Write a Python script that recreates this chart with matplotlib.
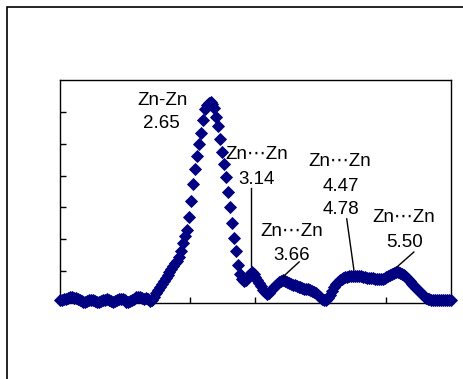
import numpy as np
import matplotlib
matplotlib.use("Agg")
import matplotlib.pyplot as plt
from matplotlib.patches import Rectangle

# FT magnitude, R from 0 to 6 (step 0.03)
r_min, r_max = 0.0, 6.0
ft_mag = [
    0.08, 0.10, 0.12, 0.14, 0.16, 0.18, 0.18, 0.17, 0.15, 0.13,
    0.10, 0.06, 0.04, 0.03, 0.05, 0.08, 0.09, 0.08, 0.06, 0.04,
    0.03, 0.05, 0.08, 0.10, 0.11, 0.09, 0.05, 0.03, 0.05, 0.09,
    0.13, 0.14, 0.12, 0.08, 0.04, 0.03, 0.06, 0.10, 0.14, 0.18,
    0.20, 0.19, 0.15, 0.13, 0.16, 0.12, 0.06, 0.10, 0.20, 0.30,
    0.40, 0.50, 0.60, 0.70, 0.79, 0.88, 0.97, 1.06, 1.15, 1.24,
    1.33, 1.45, 1.62, 1.88, 2.10, 2.30, 2.70, 3.20, 3.75, 4.20,
    4.60, 5.00, 5.35, 5.75, 6.08, 6.20, 6.28, 6.30, 6.24, 6.12,
    5.85, 5.55, 5.15, 4.75, 4.35, 3.95, 3.48, 3.00, 2.50, 2.05,
    1.62, 1.20, 0.92, 0.74, 0.68, 0.72, 0.84, 0.92, 0.96, 0.92,
    0.82, 0.72, 0.62, 0.52, 0.42, 0.34, 0.28, 0.32, 0.40, 0.47,
    0.54, 0.60, 0.65, 0.69, 0.71, 0.70, 0.67, 0.64, 0.61, 0.58,
    0.55, 0.52, 0.50, 0.49, 0.47, 0.45, 0.44, 0.43, 0.41, 0.38,
    0.34, 0.30, 0.25, 0.20, 0.14, 0.09, 0.08, 0.15, 0.26, 0.38,
    0.50, 0.59, 0.66, 0.72, 0.76, 0.79, 0.81, 0.83, 0.85, 0.86,
    0.86, 0.86, 0.85, 0.85, 0.84, 0.83, 0.82, 0.80, 0.79, 0.78,
    0.77, 0.76, 0.75, 0.75, 0.75, 0.76, 0.78, 0.81, 0.85, 0.89,
    0.92, 0.94, 0.96, 0.96, 0.95, 0.92, 0.87, 0.81, 0.75, 0.68,
    0.61, 0.54, 0.47, 0.40, 0.33, 0.27, 0.21, 0.16, 0.13, 0.11,
    0.10, 0.09, 0.09, 0.10, 0.10, 0.09, 0.08, 0.09, 0.10, 0.09,
    0.09,
]
r = np.linspace(r_min, r_max, len(ft_mag))

# peak labels (pair, distances)
pair_labels = ["Zn-Zn", "Zn\u22efZn", "Zn\u22efZn", "Zn\u22efZn", "Zn\u22efZn"]
dist_labels = [["2.65"], ["3.14"], ["3.66"], ["4.47", "4.78"], ["5.50"]]

# label positions in data units
label_xy = [(1.57, 6.37), (3.02, 4.65), (3.56, 2.26), (4.29, 4.43), (5.27, 2.67)]
dist_xy = [(1.55, 5.65), (3.02, 3.89), (3.56, 1.48), (4.31, 3.67), (5.28, 1.91)]
leader_lines = [None,
                ((2.93, 3.61), (2.93, 1.16)),
                ((3.67, 1.29), (3.42, 0.82)),
                ((4.40, 2.64), (4.51, 1.04)),
                ((5.43, 1.60), (5.17, 1.13))]

fig = plt.figure(figsize=(4.63, 3.79), dpi=100)
ax = fig.add_axes([60 / 463, 1 - 303 / 379, 391 / 463, 223 / 379])

ax.plot(r, ft_mag, linestyle="none", marker="D", markersize=5.8,
        color="#000080", markeredgewidth=0.6, clip_on=False, zorder=3)

ax.set_xlim(0, 6)
ax.set_ylim(0, 7)
ax.set_xticks(range(0, 7))
ax.set_yticks(range(0, 7))
ax.tick_params(direction="in", length=4, width=1, labelbottom=False,
               labelleft=False, color="black")
for s in ax.spines.values():
    s.set_linewidth(1.0)
    s.set_color("black")

fam = ["Liberation Sans", "DejaVu Sans"]
fs = 13.5
for i in range(len(pair_labels)):
    ax.text(label_xy[i][0], label_xy[i][1], pair_labels[i], ha="center",
            va="center", fontsize=fs, family=fam)
    for j, d in enumerate(dist_labels[i]):
        ax.text(dist_xy[i][0], dist_xy[i][1] - 0.75 * j, d, ha="center",
                va="center", fontsize=fs, family=fam)
    if leader_lines[i] is not None:
        (x0, y0), (x1, y1) = leader_lines[i]
        ax.plot([x0, x1], [y0, y1], color="black", lw=1.0, zorder=4)

# outer chart frame
fig.patches.append(Rectangle((7 / 463, -0.1), 1.2, 1 - 7 / 379 + 0.1,
                             transform=fig.transFigure, fill=False,
                             edgecolor="black", lw=1.2))

fig.savefig("out.png", dpi=100)
